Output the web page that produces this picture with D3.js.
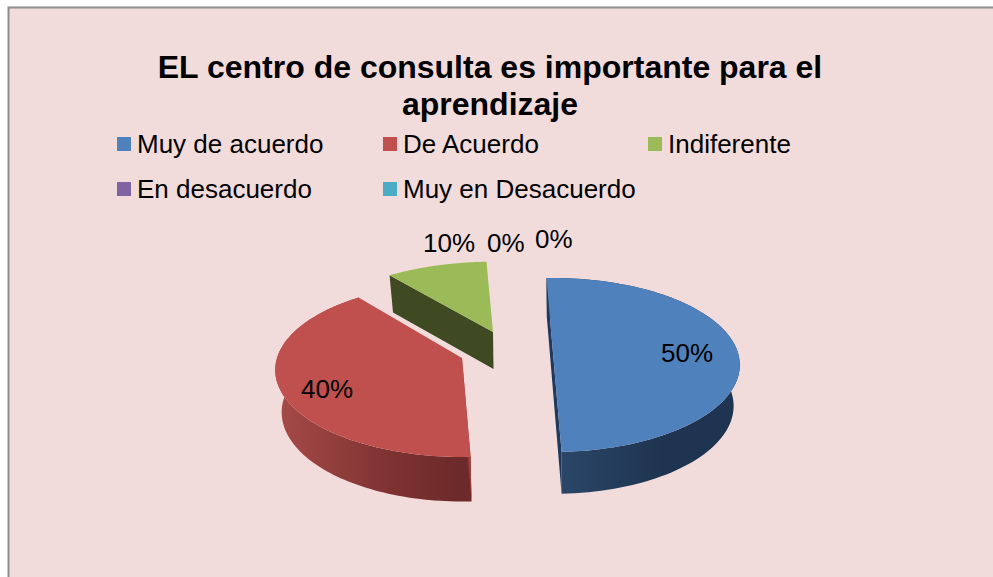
<!DOCTYPE html>
<html><head><meta charset="utf-8">
<script src="https://cdn.jsdelivr.net/npm/d3@7"></script>
<style>html,body{margin:0;padding:0;background:#fff}svg{display:block}text{font-family:"Liberation Sans",Arial,sans-serif;fill:#000}</style>
</head><body><svg id="c" width="993" height="577"></svg>
<script>
const titleLines = ["EL centro de consulta es importante para el", "aprendizaje"];
const categories = ["Muy de acuerdo", "De Acuerdo", "Indiferente", "En desacuerdo", "Muy en Desacuerdo"];
const values = [50, 40, 10, 0, 0];
const labels = ["50%", "40%", "10%", "0%", "0%"];
const colors = ["#4f81bd", "#c0504d", "#9bbb59", "#8064a2", "#4bacc6"];

const svg = d3.select("#c");
const W = 993, H = 577;
svg.append("rect").attr("x", 8).attr("y", 8).attr("width", W - 8).attr("height", H - 8)
  .attr("fill", "#f2dcdb");
svg.append("path").attr("d", `M8.5 ${H}V7.5H${W}`).attr("fill", "none").attr("stroke", "#8c8c8c").attr("stroke-width", 2);

svg.selectAll("text.title").data(titleLines).join("text").attr("class", "title")
  .attr("x", 490).attr("y", (d, i) => 78 + i * 37).attr("text-anchor", "middle")
  .attr("font-size", 32).attr("font-weight", "bold").text(d => d);

const legendX = d3.scaleOrdinal().domain([0, 1, 2]).range([117, 383, 648]);
const legendY = d3.scaleOrdinal().domain([0, 1]).range([137, 182]);
const leg = svg.selectAll("g.leg").data(categories).join("g").attr("class", "leg")
  .attr("transform", (d, i) => `translate(${legendX(i % 3)},${legendY(Math.floor(i / 3))})`);
leg.append("rect").attr("width", 14).attr("height", 14).attr("fill", (d, i) => colors[i]);
leg.append("text").attr("x", 20).attr("y", 15.5).attr("font-size", 26).text(d => d);

// per-slice projection of the tilted disc (layout only)
const geom = [
  { cx: 553, cy: 353, rx: 185, ry: 85.3, k: .138, bcx: 553, bcy: 391, brx: 178, bry: 85.4, bk: .17, face: "#1f3a5c", wall: ["#2b4668", "#1e3450", "#1e3450"], stops: [[560, 0], [650, .6], [735, 1]] },
  { cx: 462, cy: 358, rx: 185, ry: 85.3, k: .138, bcx: 463, bcy: 398, brx: 179, bry: 87, bk: .16, face: "#a03f3d", wall: ["#a54a47", "#7f3332", "#6d2a2a"], stops: [[280, 0], [400, .6], [456, 1]] },
  { cx: 493, cy: 332, rx: 185, ry: 80, k: .138, bcx: 493.5, bcy: 369, brx: 180, bry: 80, bk: .14, face: "#3f4a22", wall: ["#3f4a22", "#3f4a22", "#3f4a22"], stops: [[400, 0], [450, .5], [493, 1]] }
];

const rotation = -0.04;
const pie = d3.pie().sort(null).value(d => d).startAngle(rotation).endAngle(rotation + 2 * Math.PI);
const arcs = pie(values);
const line = d3.line();
const defs = svg.append("defs");

function proj(a, cx, cy, rx, ry, k) {
  const u = Math.sin(a), v = Math.cos(a), s = 1 / (1 + k * v);
  return [cx + rx * u * s, cy - ry * v * s];
}
const pts = (d, g, bottom) => d3.range(0, 101).map(i => {
  const a = d.startAngle + (d.endAngle - d.startAngle) * i / 100;
  return bottom ? proj(a, g.bcx, g.bcy, g.brx, g.bry, g.bk) : proj(a, g.cx, g.cy, g.rx, g.ry, g.k);
});

const pieG = svg.append("g");
arcs.forEach((d, i) => {
  if (d.value === 0) return;
  const g = geom[i];
  const top = pts(d, g, false), bot = pts(d, g, true);
  const gr = defs.append("linearGradient").attr("id", "w" + i).attr("gradientUnits", "userSpaceOnUse")
    .attr("x1", g.stops[0][0]).attr("x2", g.stops[2][0]).attr("y1", 0).attr("y2", 0);
  g.wall.forEach((c, j) => gr.append("stop").attr("offset", g.stops[j][1]).attr("stop-color", c));
  if (i !== 2) pieG.append("path").attr("d", line(top.concat(bot.slice().reverse())) + "Z").attr("fill", `url(#w${i})`);
  // cut faces
  const c = [g.cx, g.cy], bc = [g.bcx, g.bcy];
  if (i === 0) pieG.append("path").attr("d", line([top[0], c, top[100], bot[100], bc, bot[0]]) + "Z").attr("fill", g.face);
  if (i === 1) pieG.append("path").attr("d", line([c, top[0], bot[0], bc]) + "Z").attr("fill", g.face);
  if (i === 2) pieG.append("path").attr("d", line([top[0], c, bc, bot[0]]) + "Z").attr("fill", g.face);
  pieG.append("path").attr("d", line([c].concat(top)) + "Z").attr("fill", colors[i]);
});

const labelX = d3.scaleOrdinal().domain(d3.range(5)).range([661, 301, 423, 487, 535]);
const labelY = d3.scaleOrdinal().domain(d3.range(5)).range([362, 398, 252, 252, 248]);
svg.selectAll("text.lab").data(labels).join("text").attr("class", "lab")
  .attr("x", (d, i) => labelX(i)).attr("y", (d, i) => labelY(i)).attr("font-size", 26).text(d => d);
</script></body></html>
